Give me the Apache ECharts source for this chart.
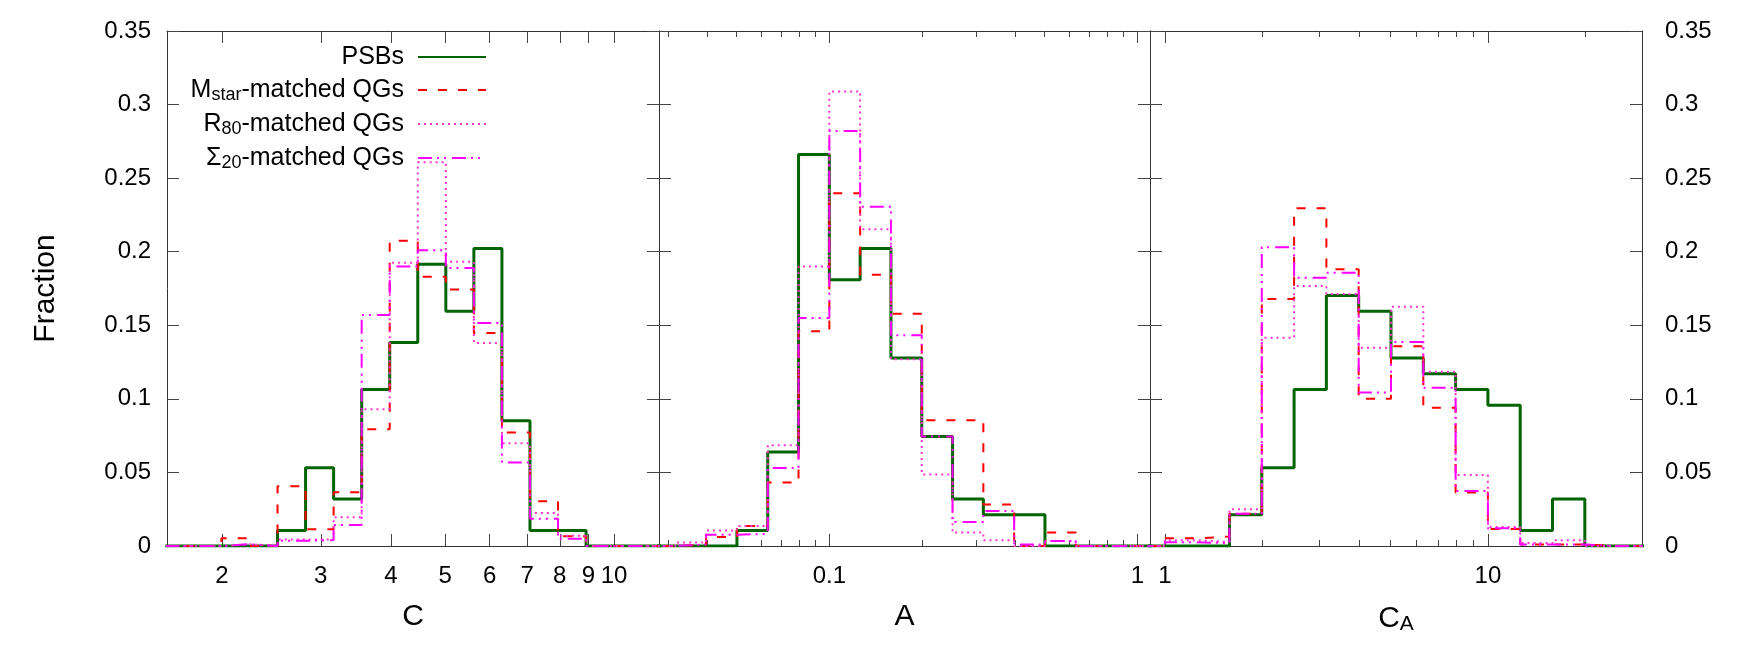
<!DOCTYPE html>
<html>
<head>
<meta charset="utf-8">
<script src="https://cdn.jsdelivr.net/npm/echarts@6/dist/echarts.min.js"></script>
<style>
  html, body { margin: 0; padding: 0; background: #fff; }
  #chart { width: 1744px; height: 652px; }
</style>
</head>
<body>
<div id="chart"></div>
<script>
// bin edges, given as log10 of the quantity
const cEdges = [0.20, 0.25, 0.30, 0.35, 0.40, 0.45, 0.50, 0.55, 0.60, 0.65, 0.70, 0.75, 0.80, 0.85, 0.90, 0.95, 1.00, 1.05, 1.10]
const aEdges = [-1.6, -1.5, -1.4, -1.3, -1.2, -1.1, -1.0, -0.9, -0.8, -0.7, -0.6, -0.5, -0.4, -0.3, -0.2, -0.1, 0.0, 0.1]
const caEdges = [-0.1, 0.0, 0.1, 0.2, 0.3, 0.4, 0.5, 0.6, 0.7, 0.8, 0.9, 1.0, 1.1, 1.2, 1.3, 1.4, 1.5]

// fractions per bin - concentration C
const psbC = [0, 0, 0, 0, 0.0106, 0.0532, 0.0319, 0.1064, 0.1383, 0.1915, 0.1596, 0.2021, 0.0851, 0.0106, 0.0106, 0, 0, 0]
const mstarC = [0, 0, 0.0052, 0, 0.0406, 0.0114, 0.0366, 0.0794, 0.2075, 0.183, 0.1744, 0.1447, 0.0771, 0.0304, 0.0066, 0, 0, 0]
const r80C = [0, 0, 0.0012, 0, 0.0044, 0.0045, 0.0195, 0.093, 0.1925, 0.2608, 0.1932, 0.138, 0.0698, 0.0224, 0.007, 0, 0, 0]
const sig20C = [0, 0, 0.0012, 0, 0.0035, 0.004, 0.0143, 0.157, 0.19, 0.201, 0.189, 0.1515, 0.0567, 0.0186, 0.005, 0, 0, 0]

// asymmetry A
const psbA = [0, 0, 0, 0.0106, 0.0638, 0.266, 0.1809, 0.2021, 0.1277, 0.0745, 0.0319, 0.0213, 0.0213, 0, 0, 0, 0]
const mstarA = [0, 0.001, 0.0061, 0.0136, 0.0431, 0.146, 0.2397, 0.1844, 0.1578, 0.0855, 0.0855, 0.0282, 0, 0.0091, 0, 0, 0]
const r80A = [0, 0.0023, 0.0105, 0.0136, 0.0685, 0.19, 0.3088, 0.2152, 0.127, 0.0486, 0.0091, 0.0039, 0, 0.0034, 0, 0, 0]
const sig20A = [0, 0.001, 0.0077, 0.0082, 0.053, 0.155, 0.2821, 0.2306, 0.1433, 0.0745, 0.0163, 0.0238, 0.001, 0.0034, 0, 0, 0]

// C_A
const psbCA = [0, 0, 0, 0.0213, 0.0532, 0.1064, 0.1702, 0.1596, 0.1277, 0.117, 0.1064, 0.0957, 0.0106, 0.0319, 0, 0]
const mstarCA = [0, 0.0052, 0.0064, 0.022, 0.1678, 0.2295, 0.188, 0.1, 0.1358, 0.094, 0.0363, 0.0116, 0.001, 0.001, 0, 0]
const r80CA = [0, 0.0039, 0.0027, 0.025, 0.1415, 0.1767, 0.1712, 0.1347, 0.1626, 0.1184, 0.0483, 0.0129, 0.002, 0.0039, 0, 0]
const sig20CA = [0, 0.0025, 0.002, 0.022, 0.203, 0.1823, 0.1857, 0.1043, 0.1386, 0.1075, 0.0374, 0.012, 0.001, 0.001, 0, 0]

// tick marks (real values, drawn on log scale)
const cMajor = [2, 3, 4, 5, 6, 7, 8, 9, 10]
const cMinor = []
const aMajor = [0.1, 1]
const aMinor = [0.03, 0.04, 0.05, 0.06, 0.07, 0.08, 0.09, 0.2, 0.3, 0.4, 0.5, 0.6, 0.7, 0.8, 0.9]
const caMajor = [1, 10]
const caMinor = [2, 3, 4, 5, 6, 7, 8, 9, 20]

const seriesNames = ['PSBs', 'Mstar-matched QGs', 'R80-matched QGs', 'Sigma20-matched QGs']
const legendText = {
  'PSBs': 'PSBs',
  'Mstar-matched QGs': 'M{sub|star}-matched QGs',
  'R80-matched QGs': 'R{sub|80}-matched QGs',
  'Sigma20-matched QGs': 'Σ{sub|20}-matched QGs'
}

const FONT = 'Liberation Sans'
const styles = [
  { color: '#006400', width: 3, type: 'solid' },
  { color: '#ff0000', width: 2, type: [9, 11] },
  { color: '#ff33cc', width: 2, type: [2, 4] },
  { color: '#ff00ff', width: 2, type: [14, 5, 2, 5, 2, 6] }
]

const panels = [
  { edges: cEdges, sets: [psbC, mstarC, r80C, sig20C], min: 0.203, max: 1.08, major: cMajor, minor: cMinor, name: 'C', left: 167 },
  { edges: aEdges, sets: [psbA, mstarA, r80A, sig20A], min: -1.553, max: 0.041, major: aMajor, minor: aMinor, name: 'A', left: 659 },
  { edges: caEdges, sets: [psbCA, mstarCA, r80CA, sig20CA], min: -0.046, max: 1.477, major: caMajor, minor: caMinor, name: 'C{sub|A}', left: 1150 }
]

const lg = v => Math.log10(v)
const fmtTick = v => String(+Math.pow(10, v).toPrecision(3))

// histogram steps: left edge of each bin, plus the final right edge
function steps(edges, vals) {
  const pts = vals.map((v, i) => [edges[i], v])
  pts.push([edges[vals.length], vals[vals.length - 1]])
  return pts
}

const grid = []
const xAxis = []
const yAxis = []
const series = []

panels.forEach((p, pi) => {
  grid.push({ left: p.left, width: pi === 1 ? 491 : 492, top: 31, height: 515 })
  const base = { gridIndex: pi, type: 'value', min: p.min, max: p.max, splitLine: { show: false } }
  const frame = { show: true, onZero: false, lineStyle: { color: '#333', width: 1 } }
  const noLine = { show: false, onZero: false }
  // bottom major (with labels)
  xAxis.push(Object.assign({}, base, {
    position: 'bottom',
    axisLine: frame,
    axisTick: { show: true, inside: true, length: 12, customValues: p.major.map(lg), lineStyle: { color: '#444' } },
    axisLabel: { show: true, customValues: p.major.map(lg), formatter: fmtTick, margin: 18, fontFamily: FONT, fontSize: 24, color: '#000' },
    name: p.name,
    nameLocation: 'middle',
    nameGap: 56,
    nameTextStyle: { fontFamily: FONT, fontSize: 30, color: '#000', rich: { sub: { fontFamily: FONT, fontSize: 21, padding: [12, 0, 0, 0] } } }
  }))
  // bottom minor
  xAxis.push(Object.assign({}, base, {
    position: 'bottom',
    axisLine: noLine,
    axisTick: p.minor.length ? { show: true, inside: true, length: 6, customValues: p.minor.map(lg), lineStyle: { color: '#444' } } : { show: false },
    axisLabel: { show: false }
  }))
  // top major
  xAxis.push(Object.assign({}, base, {
    position: 'top',
    axisLine: frame,
    axisTick: { show: true, inside: true, length: 12, customValues: p.major.map(lg), lineStyle: { color: '#444' } },
    axisLabel: { show: false }
  }))
  // top minor
  xAxis.push(Object.assign({}, base, {
    position: 'top',
    axisLine: noLine,
    axisTick: p.minor.length ? { show: true, inside: true, length: 6, customValues: p.minor.map(lg), lineStyle: { color: '#444' } } : { show: false },
    axisLabel: { show: false }
  }))

  const ybase = { gridIndex: pi, type: 'value', min: 0, max: 0.35, interval: 0.05, splitLine: { show: false }, axisLine: frame,
    axisTick: { show: true, inside: true, length: 12, lineStyle: { color: '#444' } } }
  yAxis.push(Object.assign({}, ybase, {
    position: 'left',
    axisLabel: { show: pi === 0, margin: 16, fontFamily: FONT, fontSize: 24, color: '#000' },
    name: pi === 0 ? 'Fraction' : '',
    nameLocation: 'middle',
    nameGap: 106,
    nameTextStyle: { fontFamily: FONT, fontSize: 30, color: '#000' }
  }))
  yAxis.push(Object.assign({}, ybase, {
    position: 'right',
    axisLabel: { show: pi === 2, margin: 23, fontFamily: FONT, fontSize: 24, color: '#000' }
  }))

  p.sets.forEach((vals, si) => {
    const st = styles[si]
    series.push({
      type: 'line',
      name: seriesNames[si],
      xAxisIndex: pi * 4,
      yAxisIndex: pi * 2,
      step: 'end',
      symbol: 'none',
      showSymbol: false,
      clip: true,
      color: st.color,
      lineStyle: { color: st.color, width: st.width, type: st.type },
      data: steps(p.edges, vals),
      z: 2 + si
    })
  })
})

const chart = echarts.init(document.getElementById('chart'))
chart.setOption({
  animation: false,
  backgroundColor: '#fff',
  grid,
  xAxis,
  yAxis,
  legend: {
    data: seriesNames,
    orient: 'vertical',
    align: 'right',
    right: 1257,
    top: 44,
    padding: 0,
    itemWidth: 68,
    itemHeight: 14,
    itemGap: 7,
    itemStyle: { opacity: 0 },
    formatter: name => legendText[name],
    textStyle: {
      fontFamily: FONT, fontSize: 25, color: '#000', lineHeight: 26, padding: [0, 9, 0, 0],
      rich: { sub: { fontFamily: FONT, fontSize: 18, padding: [10, 0, 0, 0] } }
    }
  },
  series
})
</script>
</body>
</html>
